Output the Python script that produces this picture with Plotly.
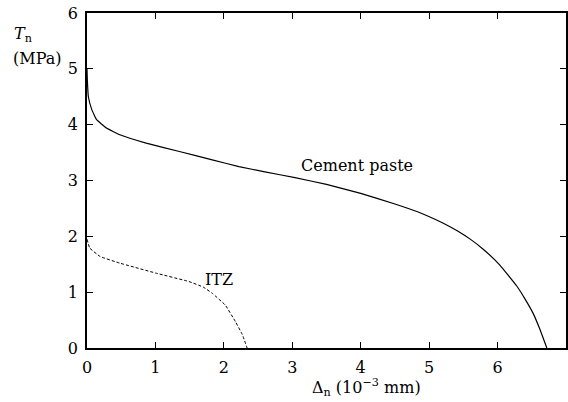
import plotly.graph_objects as go

# Data
cement_x = [0, 0.005, 0.02, 0.07, 0.14, 0.285, 0.48, 0.865, 1.35, 1.83, 2.22, 2.6, 3.04,
            3.5, 4.0, 4.5, 4.83, 4.97, 5.2, 5.41, 5.6, 5.79, 6.03, 6.28, 6.4, 6.52, 6.62, 6.72]
cement_y = [5.0, 4.80, 4.50, 4.27, 4.09, 3.94, 3.82, 3.67, 3.52, 3.37, 3.25, 3.155, 3.05,
            2.93, 2.77, 2.58, 2.44, 2.37, 2.24, 2.10, 1.95, 1.77, 1.49, 1.11, 0.88, 0.62, 0.33, 0.0]
itz_x = [0, 0.04, 0.19, 0.48, 1.01, 1.49, 1.7, 1.83, 2.02, 2.17, 2.27, 2.34]
itz_y = [1.95, 1.79, 1.64, 1.52, 1.34, 1.19, 1.09, 0.98, 0.77, 0.47, 0.24, 0.0]
x_ticks = [0, 1, 2, 3, 4, 5, 6, 7]
y_ticks = [0, 1, 2, 3, 4, 5, 6]

FONT = "DejaVu Serif"

fig = go.Figure()
fig.add_trace(go.Scatter(x=cement_x, y=cement_y, mode="lines",
                         line=dict(color="black", width=1.2, shape="spline", smoothing=0.3),
                         showlegend=False))
fig.add_trace(go.Scatter(x=itz_x, y=itz_y, mode="lines",
                         line=dict(color="black", width=1.0, dash="3px,2px", shape="spline", smoothing=0.3),
                         showlegend=False))

fig.add_annotation(x=3.95, y=3.27, text="Cement paste", showarrow=False,
                   font=dict(family=FONT, size=16, color="black"))
fig.add_annotation(x=1.93, y=1.22, text="ITZ", showarrow=False,
                   font=dict(family=FONT, size=16, color="black"))

fig.add_annotation(xref="paper", yref="paper", x=-0.156, y=0.935, xanchor="left", yanchor="middle",
                   text="<i>T</i><sub>n</sub>", showarrow=False,
                   font=dict(family=FONT, size=16, color="black"))
fig.add_annotation(xref="paper", yref="paper", x=-0.158, y=0.863, xanchor="left", yanchor="middle",
                   text="(MPa)", showarrow=False,
                   font=dict(family=FONT, size=16, color="black"))
fig.add_annotation(xref="paper", yref="paper", x=0.584, y=-0.119, xanchor="center", yanchor="middle",
                   text="Δ<sub>n</sub> (10<sup>−3</sup> mm)", showarrow=False,
                   font=dict(family=FONT, size=16, color="black"))

axis_common = dict(showgrid=False, zeroline=False, showline=True, linecolor="black", linewidth=1.5,
                   mirror="allticks", ticks="inside", ticklen=6, tickcolor="black", tickwidth=1,
                   ticklabelstandoff=4,
                   tickfont=dict(family=FONT, size=16, color="black"))

fig.update_xaxes(range=[0, 7], tickvals=x_ticks, ticktext=[str(v) for v in x_ticks], **axis_common)
fig.update_yaxes(range=[0, 6], tickvals=y_ticks, ticktext=[str(v) for v in y_ticks], **axis_common)

fig.update_layout(width=568, height=402, margin=dict(l=87, r=0, t=13, b=54),
                  plot_bgcolor="white", paper_bgcolor="white")

fig.write_html("out.html")
